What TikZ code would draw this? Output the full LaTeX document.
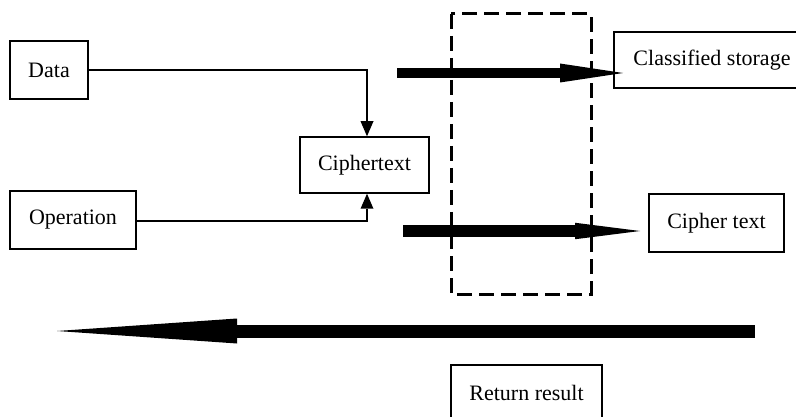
\documentclass[tikz,border=0pt]{standalone}
\usepackage{fontspec}
\setmainfont{Liberation Serif}
\usetikzlibrary{arrows.meta}
\begin{document}
\begin{tikzpicture}[x=1pt,y=-1pt,
  box/.style={draw,line width=1.5pt,inner sep=0pt,font=\fontsize{22}{26}\selectfont},
  conn/.style={line width=2.6pt,-{Triangle[length=15pt,width=13pt,line width=0pt]}},
  framebox/.style={draw,line width=3pt,dash pattern=on 15pt off 7pt}]
\clip (0,0) rectangle (796,417);
\fill[white] (0,0) rectangle (796,417);
% boxes
\node[box,minimum width=78pt,minimum height=58pt] (data) at (49,70) {Data};
\node[box,minimum width=126pt,minimum height=58pt] (oper) at (73,220) {Operation};
\node[box,minimum width=129pt,minimum height=56pt] (cipher) at (364.5,165) {Ciphertext};
\node[box,minimum width=196pt,minimum height=56pt] (store) at (712,60) {Classified storage};
\node[box,minimum width=135pt,minimum height=58pt] (ctext) at (716.5,223) {Cipher text};
\node[box,minimum width=151pt,minimum height=56pt] (ret) at (526.5,393) {Return result};
% dashed frame
\draw[framebox] (451,14) rectangle (591,294);
% connectors
\draw[conn] (data.east) -| ([xshift=2.5pt]cipher.north);
\draw[conn] ([yshift=-1pt]oper.east) -| ([xshift=2.5pt]cipher.south);
% thick arrows
\coordinate (a1s) at (397,73);
\coordinate (a1e) at (623,73);
\coordinate (a2s) at (403,231);
\coordinate (a2e) at (640,231);
\coordinate (a3s) at (755,331);
\coordinate (a3e) at (57,331);
\draw[line width=10pt,-{Triangle[length=63pt,width=19pt,line width=0pt]}] (a1s) -- (a1e);
\draw[line width=11.5pt,-{Triangle[length=65pt,width=16.5pt,line width=0pt]}] (a2s) -- (a2e);
\draw[line width=13pt,-{Triangle[length=180pt,width=25pt,line width=0pt]}] (a3s) -- (a3e);
\end{tikzpicture}
\end{document}
